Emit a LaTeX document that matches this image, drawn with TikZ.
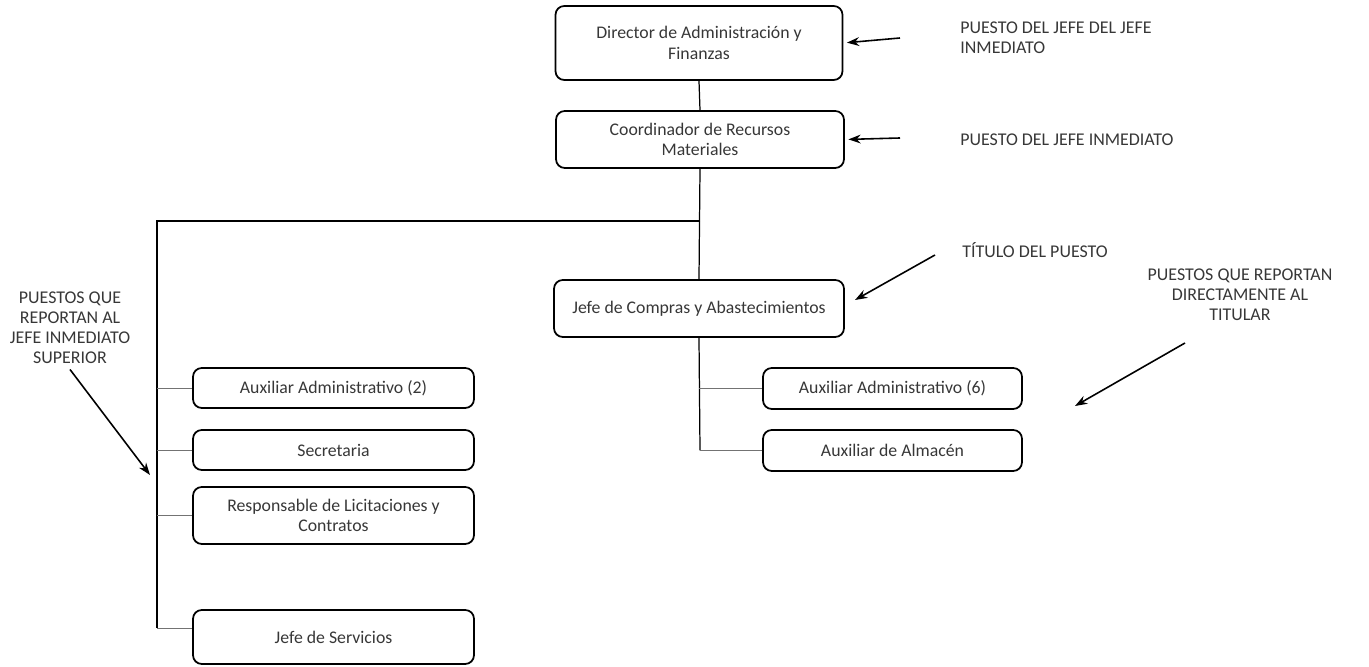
\documentclass[tikz,border=0pt]{standalone}
\usepackage{fontspec}
\setmainfont{Carlito}
\usepackage{tikz}
\usetikzlibrary{arrows.meta}
\definecolor{texto}{RGB}{55,55,55}

\begin{document}
\begin{tikzpicture}[puesto/.style = {draw, rounded corners=5pt, line width=1pt, align=center, text=texto, font=\fontsize{10.1}{11.8}\selectfont, inner sep=2pt}, nota/.style = {text=texto, font=\fontsize{10.2}{11.4}\selectfont, inner sep=0pt}, flecha/.style = {-{Stealth[length=7pt,width=5pt]}, line width=0.9pt}, rama/.style = {draw=black!55, line width=0.5pt}]
\useasboundingbox (0,0) rectangle (27.38,13.34);
\node[puesto, minimum width=5.74cm, minimum height=1.48cm](dir) at (13.98,12.48) {Director de Administración y\\Finanzas};
\node[puesto, minimum width=5.76cm, minimum height=1.14cm](coord) at (14.0,10.55) {Coordinador de Recursos\\Materiales};
\node[puesto, minimum width=5.8cm, minimum height=1.14cm](jefe) at (13.98,7.17) {Jefe de Compras y Abastecimientos};
\node[puesto, minimum width=5.18cm, minimum height=0.82cm](auxseis) at (17.85,5.57) {Auxiliar Administrativo (6)};
\node[puesto, minimum width=5.18cm, minimum height=0.82cm](almacen) at (17.85,4.33) {Auxiliar de Almacén};
\node[puesto, minimum width=5.62cm, minimum height=0.8cm](auxdos) at (6.67,5.58) {Auxiliar Administrativo (2)};
\node[puesto, minimum width=5.62cm, minimum height=0.8cm](secre) at (6.67,4.34) {Secretaria};
\node[puesto, minimum width=5.62cm, minimum height=1.14cm](licit) at (6.67,3.03) {Responsable de Licitaciones y\\Contratos};
\node[puesto, minimum width=5.62cm, minimum height=1.08cm](serv) at (6.67,0.6) {Jefe de Servicios};
\coordinate (cruce) at (14.0,8.92); \coordinate (izq) at (3.14,8.92); \coordinate (izqfin) at (3.14,0.78); \coordinate (derfin) at (14.0,4.33);
\draw[line width=0.7pt] (dir.south) -- (coord.north); \draw[line width=0.7pt] (coord.south) -- (jefe.north); \draw[line width=0.7pt] (cruce) -- (izq) -- (izqfin);
\draw[line width=0.7pt] (jefe.south) -- (derfin); \draw[rama] (auxseis.west) -- (auxseis.west -| jefe.south); \draw[rama] (almacen.west) -- (derfin);
\draw[rama] (auxdos.west) -- (auxdos.west -| izq); \draw[rama] (secre.west) -- (secre.west -| izq); \draw[rama] (licit.west) -- (licit.west -| izq); \draw[rama] (izqfin) -- (izqfin -| serv.west);
\node[nota, anchor=west, align=left](t1) at (19.2,12.58) {PUESTO DEL JEFE DEL JEFE\\INMEDIATO};
\node[nota, anchor=west](t2) at (19.2,10.54) {PUESTO DEL JEFE INMEDIATO};
\node[nota, anchor=west](t3) at (19.24,8.34) {TÍTULO DEL PUESTO};
\node[nota, align=center](t4) at (24.8,7.44) {PUESTOS QUE REPORTAN\\DIRECTAMENTE AL\\TITULAR};
\node[nota, align=center](t5) at (1.4,6.78) {PUESTOS QUE\\REPORTAN AL\\JEFE INMEDIATO\\SUPERIOR};
\coordinate (p1) at (18.0,12.58); \coordinate (p2) at (18.0,10.58); \coordinate (p3) at (18.7,8.24); \coordinate (q3) at (17.1,7.34); \coordinate (p4) at (23.7,6.48); \coordinate (q4) at (21.5,5.22); \coordinate (p5) at (1.4,5.95); \coordinate (q5) at (3.0,3.84);
\draw[flecha, shorten >=2pt] (p1) -- (dir.east); \draw[flecha, shorten >=2pt] (p2) -- (coord.east); \draw[flecha] (p3) -- (q3); \draw[flecha] (p4) -- (q4); \draw[flecha] (p5) -- (q5);
\end{tikzpicture}
\end{document}
